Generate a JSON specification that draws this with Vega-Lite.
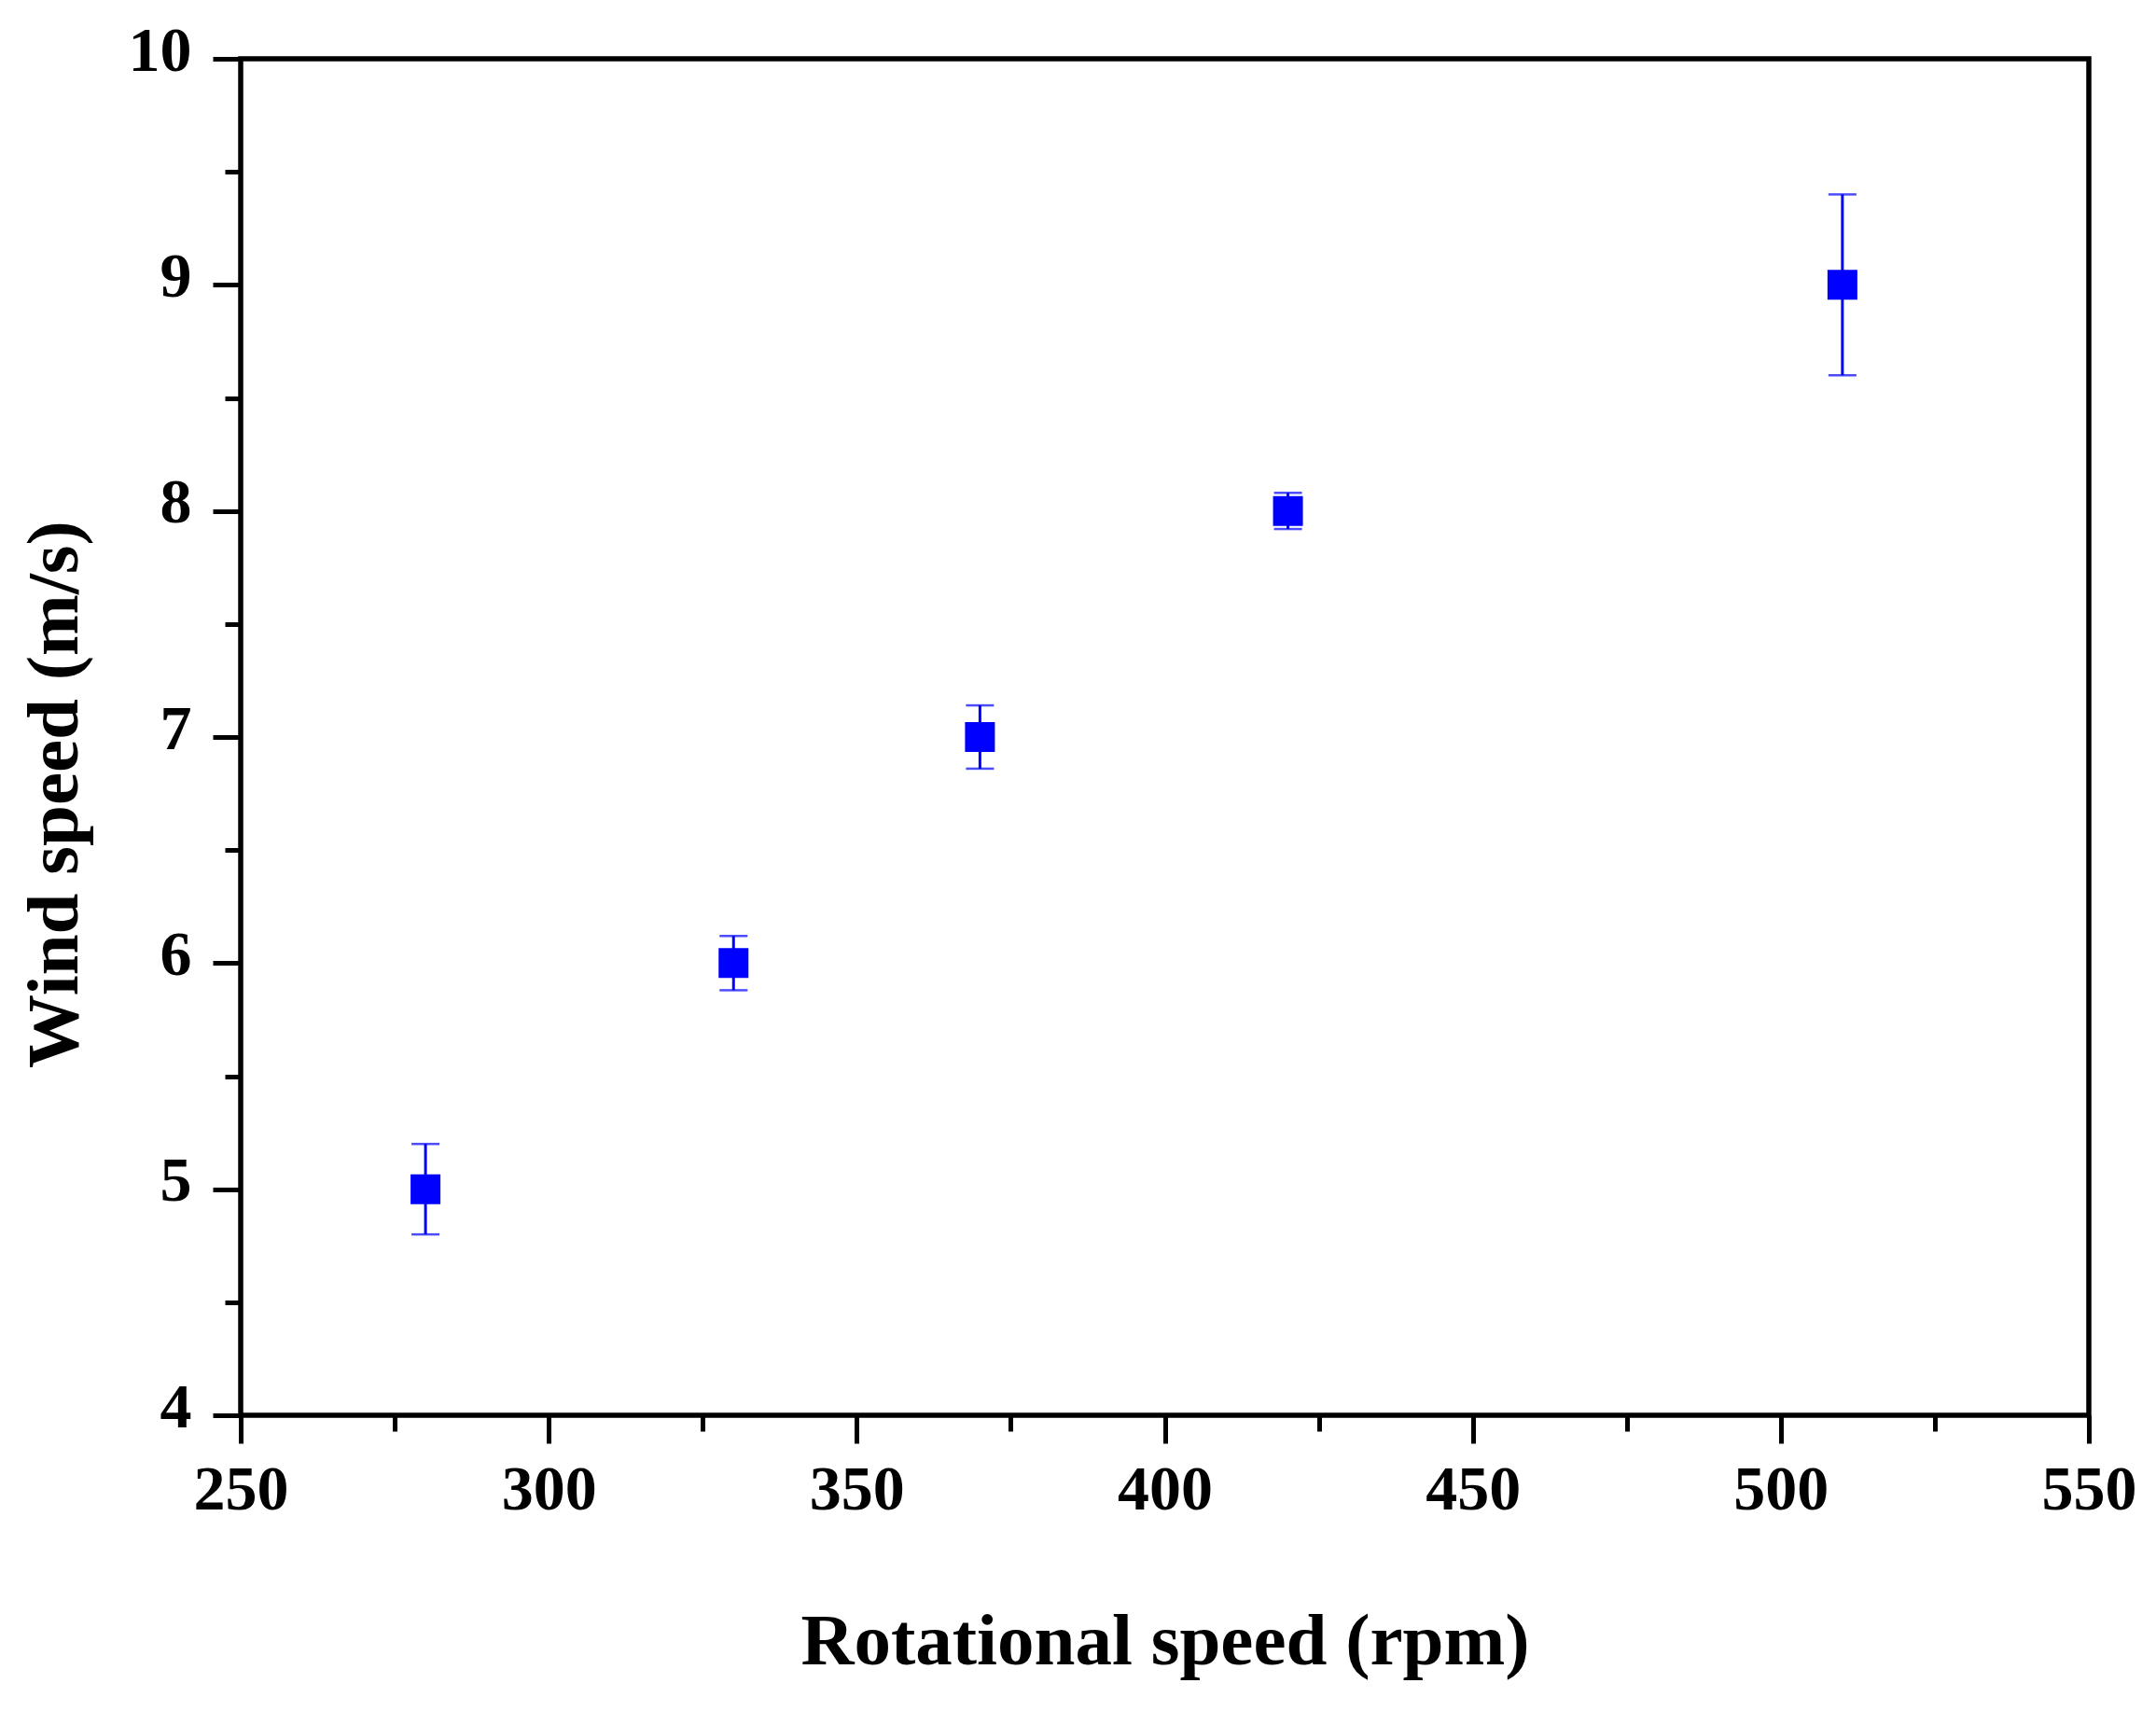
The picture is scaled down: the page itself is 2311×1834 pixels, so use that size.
{
  "$schema": "https://vega.github.io/schema/vega-lite/v6.json",
  "width": 1981,
  "height": 1454,
  "autosize": "none",
  "padding": {"left": 258, "top": 63, "right": 72, "bottom": 317},
  "background": "white",
  "data": {
    "values": [
      {"rpm": 280, "wind": 5, "lo": 4.8, "hi": 5.2},
      {"rpm": 330, "wind": 6, "lo": 5.88, "hi": 6.12},
      {"rpm": 370, "wind": 7, "lo": 6.86, "hi": 7.14},
      {"rpm": 420, "wind": 8, "lo": 7.92, "hi": 8.08},
      {"rpm": 510, "wind": 9, "lo": 8.6, "hi": 9.4}
    ]
  },
  "layer": [
    {
      "mark": {"type": "point", "shape": "square", "filled": true, "size": 1024, "color": "#0000FF", "opacity": 1},
      "encoding": {
        "x": {
          "field": "rpm",
          "type": "quantitative",
          "title": "Rotational speed (rpm)",
          "scale": {"domain": [250, 550], "nice": false, "zero": false},
          "axis": {
            "values": [250, 275, 300, 325, 350, 375, 400, 425, 450, 475, 500, 525, 550],
            "labelExpr": "datum.value % 50 === 0 ? format(datum.value, 'd') : ''",
            "tickSize": {"condition": {"test": "datum.value % 50 === 0", "value": 30}, "value": 17},
            "labelPadding": 16,
            "domain": false,
            "grid": false,
            "titleY": 266,
            "titleBaseline": "alphabetic"
          }
        },
        "y": {
          "field": "wind",
          "type": "quantitative",
          "title": "Wind speed (m/s)",
          "scale": {"domain": [4, 10], "nice": false, "zero": false},
          "axis": {
            "values": [4, 4.5, 5, 5.5, 6, 6.5, 7, 7.5, 8, 8.5, 9, 9.5, 10],
            "labelExpr": "datum.value % 1 === 0 ? format(datum.value, 'd') : ''",
            "tickSize": {"condition": {"test": "datum.value % 1 === 0", "value": 30}, "value": 17},
            "labelPadding": 23,
            "labelOffset": -8,
            "domain": false,
            "grid": false,
            "titleX": -176,
            "titleY": 788,
            "titleAngle": 270,
            "titleAlign": "center",
            "titleBaseline": "alphabetic"
          }
        }
      }
    },
    {
      "mark": {"type": "rule", "color": "#0000FF", "strokeWidth": 3},
      "encoding": {
        "x": {"field": "rpm", "type": "quantitative", "title": "Rotational speed (rpm)"},
        "y": {"field": "lo", "type": "quantitative", "title": "Wind speed (m/s)"},
        "y2": {"field": "hi"}
      }
    },
    {
      "mark": {"type": "tick", "orient": "horizontal", "color": "#0000FF", "size": 30, "thickness": 2.5},
      "encoding": {
        "x": {"field": "rpm", "type": "quantitative", "title": "Rotational speed (rpm)"},
        "y": {"field": "lo", "type": "quantitative", "title": "Wind speed (m/s)"}
      }
    },
    {
      "mark": {"type": "tick", "orient": "horizontal", "color": "#0000FF", "size": 30, "thickness": 2.5},
      "encoding": {
        "x": {"field": "rpm", "type": "quantitative", "title": "Rotational speed (rpm)"},
        "y": {"field": "hi", "type": "quantitative", "title": "Wind speed (m/s)"}
      }
    }
  ],
  "config": {
    "view": {"stroke": "black", "strokeWidth": 5.5},
    "axis": {
      "tickColor": "black",
      "tickWidth": 5,
      "labelFont": "Liberation Serif",
      "labelFontWeight": "bold",
      "labelFontSize": 68,
      "labelColor": "black",
      "labelFlush": false,
      "labelOverlap": false,
      "titleFont": "Liberation Serif",
      "titleFontWeight": "bold",
      "titleFontSize": 79,
      "titleColor": "black"
    }
  }
}
